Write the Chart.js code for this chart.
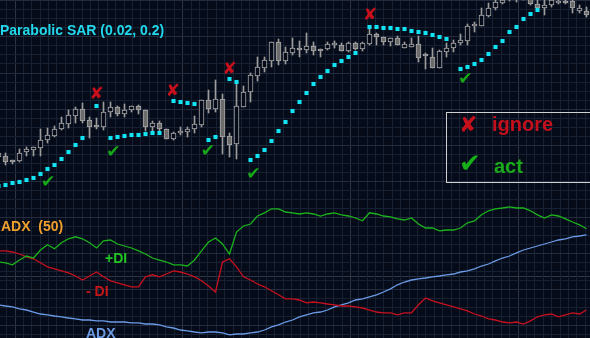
<!DOCTYPE html>
<html>
<head>
<meta charset="utf-8">
<script src="https://cdn.jsdelivr.net/npm/chart.js@4"></script>
<style>
  html, body { margin: 0; padding: 0; background: #050b19; }
  #wrap { position: relative; width: 590px; height: 338px; overflow: hidden; background: #050b19; }
  #chart { position: absolute; left: 0; top: 0; }
  .lbl { position: absolute; white-space: nowrap; font-family: "Liberation Sans", Arial, sans-serif; font-weight: bold; line-height: 1; }
  #legendBox { position: absolute; left: 446px; top: 112px; width: 160px; height: 69px; border: 1px solid #cfcfcf; }
</style>
</head>
<body>
<div id="wrap">
  <canvas id="chart" width="590" height="338"></canvas>
  <div class="lbl" style="left:0;top:23px;font-size:14px;color:#22d8ec;">Parabolic SAR (0.02, 0.2)</div>
  <div class="lbl" style="left:1px;top:219px;font-size:14px;color:#f0a02c;">ADX&nbsp;&nbsp;(50)</div>
  <div class="lbl" style="left:105px;top:251px;font-size:14px;color:#22c422;">+DI</div>
  <div class="lbl" style="left:86px;top:284px;font-size:14px;color:#c81616;">- DI</div>
  <div class="lbl" style="left:86px;top:326px;font-size:14px;color:#6d9be2;">ADX</div>
  <div id="legendBox"></div>
  <div class="lbl" style="left:459px;top:114px;font-size:22px;font-weight:normal;font-family:'DejaVu Sans';color:#c8101c;">✘</div>
  <div class="lbl" style="left:492px;top:114px;font-size:20px;color:#c4101c;">ignore</div>
  <div class="lbl" style="left:459px;top:150px;font-size:26px;font-weight:normal;font-family:'DejaVu Sans';color:#17b017;">✔</div>
  <div class="lbl" style="left:494px;top:156px;font-size:20px;color:#1aaa1a;">act</div>
</div>
<script>
// candles (price units), one per bar
const open = [68.6, 68.8, 68, 67.8, 69.6, 70, 70.4, 72, 72.8, 74.2,
  75.2, 76.8, 78.2, 76, 74.8, 74.6, 77.6, 78.6, 77.2, 78,
  78.8, 78, 74.6, 75.4, 74.2, 72.2, 73.4, 73.6, 74.2, 75,
  80, 78.2, 80.2, 72.8, 71.2, 78.6, 81.6, 84.8, 86.4, 87.8,
  91.6, 87.8, 89.4, 90.4, 90, 90.8, 90.2, 90.2, 91, 91,
  89.8, 91.4, 90.2, 91.2, 93.2, 92.6, 91.6, 92.4, 90.4, 90.6,
  91.2, 89, 88.6, 86.4, 89.6, 90.4, 91.4, 91.8, 94.8, 94.8,
  96.8, 98.4, 99.4, 100.2, 100.4, 100.6, 100.2, 99.2, 98.4, 99,
  99.4, 99.8, 99.8, 97.8, 97.8];
const close = [69.4, 67.6, 67.6, 69.4, 70.2, 70.6, 72, 73, 74.2, 75.4,
  77, 78.2, 75.8, 74.6, 74.6, 77.6, 78.6, 77.2, 78, 78.8,
  78, 74.6, 75.4, 74.2, 72.2, 73.4, 73.8, 74.2, 75.2, 80,
  78.2, 80.2, 72.6, 71, 78.8, 81.6, 85, 86.6, 88, 91.6,
  87.8, 89.6, 90.4, 90, 90.8, 89.8, 89.8, 91.2, 91.2, 89.8,
  91.4, 90.2, 91.4, 93.2, 92.6, 91.6, 92.4, 91, 91.2, 91.2,
  88.4, 88.8, 86.4, 89.8, 90.4, 91.4, 92, 94.8, 95, 97,
  98.4, 99.6, 100, 101.2, 101, 101.6, 99.2, 98.4, 99, 100,
  99.8, 99.4, 98.4, 98.4, 97];
const high = [70, 69.4, 68, 70.2, 70.6, 70.6, 74.2, 74.4, 74.8, 76.6,
  78, 78.6, 79.4, 76.6, 76.4, 79.6, 79.6, 78.8, 79.2, 78.8,
  79, 78, 75.8, 75.8, 74.2, 73.6, 74.6, 74.6, 76.8, 80,
  82, 84, 81.2, 73.4, 83.4, 82.8, 85.4, 88.6, 88.6, 91.6,
  92.2, 90.6, 92.4, 91.8, 93.4, 91.6, 90.2, 91.6, 91.8, 91.4,
  91.6, 91.6, 91.6, 94.2, 93.4, 92.6, 92.4, 92.8, 91.6, 92.4,
  92.8, 89.4, 90.4, 90, 91.4, 92, 93.2, 95.2, 95.6, 98.4,
  99.4, 100, 100.4, 101.8, 101.6, 102, 100.6, 100, 100, 100.4,
  100.4, 100.2, 100.4, 99, 98.6];
const low = [68, 67, 67.2, 67.6, 68.8, 68.8, 68.8, 71.4, 72.6, 74,
  74.4, 75.4, 75.4, 72.4, 74.2, 74, 76.6, 76.8, 76.6, 77.6,
  77.2, 73.8, 73.8, 73.8, 72.2, 72, 73, 72.6, 73.4, 74.6,
  77.4, 77.6, 69.2, 68.6, 68.2, 78.6, 79.6, 83.8, 85.6, 86.6,
  87, 87.2, 89, 88.6, 89.4, 89, 88.6, 90, 90.4, 89.8,
  89.6, 90, 89.8, 91, 91, 91, 90.8, 91, 90.4, 90.6,
  87.6, 86.2, 86.4, 86.4, 88.6, 89.6, 91, 91, 93.6, 94.8,
  96.6, 98, 99.2, 99.8, 99.6, 100, 99, 98.2, 97, 98.6,
  99.2, 99.2, 97.4, 97.4, 96.6];

// Parabolic SAR (null where the dot is not visible)
const sar = [62.8, 63, 63.4, 63.6, 64, 64.4, 65.2, 66.2, 67, 68.2,
  69.6, 71, 72.4, null, 78.8, null, 72.4, 72.6, 72.8, 73,
  73, 73.2, 73.4, 73.4, null, 79.8, 79.6, 79.4, 79.2, null,
  72, 72.6, null, 84.2, 83.6, null, 68, 68.8, 70, 71.8,
  73.8, 75.6, 77.8, 79.6, 81.4, 83.2, 84.6, 85.8, 87, 87.8,
  88.6, 89.4, null, 94.6, 94.6, 94.4, 94.4, 94.2, 94.2, 93.8,
  93.6, 93.4, 93, 92.6, 92.2, null, 86.2, 86.6, 87.2, 88,
  89.2, 90.6, 91.8, 93.6, 94.6, 96.2, 97.2, 98, null, null,
  null, null, null, null, null];

// ADX (50) panel
const plusDI = [28.5, 28.3, 27.8, 29, 30, 29.5, 31.5, 32.8, 31.8, 33.3,
  34.3, 34.8, 34.3, 33.3, 32, 33.8, 34, 33, 32.5, 32,
  31.3, 30.5, 29.5, 29, 28.5, 27.8, 27.8, 27.5, 29, 31.3,
  33.5, 34.5, 33, 30.5, 36, 37.5, 38, 40, 40.8, 41.8,
  41.8, 41, 40.8, 40.5, 40.8, 40.5, 40, 40.5, 40.8, 40.3,
  40, 39.5, 38.8, 40.8, 40.5, 40, 39.8, 39.3, 39, 39.5,
  38, 37, 37, 36.3, 36.5, 36.5, 37, 38.3, 38.8, 40.3,
  41.3, 41.8, 42, 42.3, 42, 42, 41.3, 40.3, 39.5, 40.3,
  40, 39.3, 38.5, 37.8, 36.8];
const minusDI = [31.3, 31.3, 31, 30.5, 29.8, 29.3, 28.3, 27.3, 26.8, 26.3,
  25.8, 25, 24, 25, 26, 24.8, 23.8, 23.3, 22.8, 22.3,
  22.3, 24.8, 25.3, 24.8, 25.5, 26.3, 26, 25.5, 24.8, 23.8,
  22.5, 21, 28.5, 29.3, 27.3, 24.8, 24, 23, 22.3, 21.3,
  20.3, 19.3, 19.3, 19, 18.3, 18.5, 18.3, 18, 17.8, 17.5,
  17.5, 17.3, 17, 16.5, 16, 15.8, 15.8, 15.3, 15.8, 15.8,
  17.8, 19.5, 18.8, 18.3, 17.8, 17.3, 16.8, 16.3, 15.5, 15,
  14.3, 14, 13.5, 13.3, 13.5, 13, 13.8, 14.8, 15.3, 15.5,
  14.8, 15.3, 15.8, 15.5, 16.5];
const adx = [17.8, 17.5, 17.3, 16.8, 16.5, 16, 15.5, 15.3, 15, 14.8,
  14.5, 14.3, 14, 14, 13.8, 13.8, 13.5, 13.5, 13.5, 13.3,
  13.3, 13, 13, 12.8, 12.3, 12, 11.5, 11.3, 11, 10.8,
  11, 11, 10.8, 10.3, 10.5, 10.5, 10.8, 11, 11.5, 12.3,
  12.8, 13.5, 14, 14.8, 15.3, 15.8, 16, 16.5, 17.3, 17.8,
  18.3, 19, 19.3, 19.8, 20.3, 21, 21.8, 22.8, 23.5, 24,
  24.3, 24.5, 24.8, 25, 25.3, 25.5, 26, 26.3, 26.8, 27.5,
  28, 28.8, 29.5, 30, 30.8, 31.5, 32, 32.5, 33, 33.5,
  34, 34.3, 34.8, 35, 35.3];

// signal marks: bar index and price
const ignoreBars = [14, 24.9, 33, 53.1];
const ignorePrices = [81, 81.6, 86, 96.8];
const actBars = [7.1, 16.4, 29.9, 36.4, 66.7];
const actPrices = [63.4, 69.4, 69.6, 65, 84];

const BG = '#050b19';
const bars = open.map((_, i) => i);

const markPlugin = {
  id: 'marks',
  afterDatasetsDraw(chart) {
    const { ctx, scales } = chart;
    ctx.save();
    ctx.textAlign = 'center';
    ctx.textBaseline = 'middle';
    ctx.font = '17px "DejaVu Sans"';
    ctx.fillStyle = '#c8101c';
    ignoreBars.forEach((b, i) => {
      ctx.fillText('✘', scales.x.getPixelForValue(b), scales.y.getPixelForValue(ignorePrices[i]));
    });
    ctx.font = '17px "DejaVu Sans"';
    ctx.fillStyle = '#16a816';
    actBars.forEach((b, i) => {
      ctx.fillText('✔', scales.x.getPixelForValue(b), scales.y.getPixelForValue(actPrices[i]));
    });
    ctx.restore();
  }
};

function gridColor(every, major, minor) {
  return (c) => (c.tick && Math.round(c.tick.value) % every === 0) ? major : minor;
}

new Chart(document.getElementById('chart'), {
  type: 'bar',
  data: {
    datasets: [
      {
        label: 'SAR',
        type: 'line',
        order: 0,
        data: bars.filter(i => sar[i] !== null).map(i => ({ x: i, y: sar[i] })),
        showLine: false,
        pointStyle: 'rect',
        pointRadius: 2.9,
        pointBorderWidth: 0,
        pointBackgroundColor: '#12e4f4',
        xAxisID: 'x',
        yAxisID: 'y'
      },
      {
        label: 'body',
        order: 1,
        data: bars.map(i => ({ x: i, y: [open[i], close[i]] })),
        backgroundColor: bars.map(i => open[i] > close[i] ? '#6c6c6c' : BG),
        borderColor: '#a8a8a8',
        borderWidth: 1,
        borderSkipped: false,
        barThickness: 5,
        minBarLength: 2,
        grouped: false,
        xAxisID: 'x',
        yAxisID: 'y'
      },
      {
        label: 'wick',
        order: 2,
        data: bars.map(i => ({ x: i, y: [low[i], high[i]] })),
        backgroundColor: '#9c9c9c',
        borderWidth: 0,
        barThickness: 1,
        grouped: false,
        xAxisID: 'x',
        yAxisID: 'y'
      },
      {
        label: '+DI',
        type: 'line',
        order: 0,
        data: bars.map(i => ({ x: i, y: plusDI[i] })),
        borderColor: '#1cb41c',
        borderWidth: 1.3,
        pointRadius: 0,
        tension: 0,
        xAxisID: 'x',
        yAxisID: 'yAdx'
      },
      {
        label: '-DI',
        type: 'line',
        order: 0,
        data: bars.map(i => ({ x: i, y: minusDI[i] })),
        borderColor: '#c8101e',
        borderWidth: 1.3,
        pointRadius: 0,
        tension: 0,
        xAxisID: 'x',
        yAxisID: 'yAdx'
      },
      {
        label: 'ADX',
        type: 'line',
        order: 0,
        data: bars.map(i => ({ x: i, y: adx[i] })),
        borderColor: '#6b9be6',
        borderWidth: 1.3,
        pointRadius: 0,
        tension: 0,
        xAxisID: 'x',
        yAxisID: 'yAdx'
      }
    ]
  },
  options: {
    responsive: false,
    animation: false,
    devicePixelRatio: 1,
    layout: { padding: 0, autoPadding: false },
    plugins: { legend: { display: false }, tooltip: { enabled: false } },
    scales: {
      x: { type: 'linear', offset: false, min: 0.2143, max: 84.5, display: false },
      y: { type: 'linear', min: 32.4, max: 100, display: false },
      yAdx: {
        type: 'linear', position: 'right', min: 9.5, max: 94,
        ticks: { display: false },
        afterBuildTicks: (scale) => { scale.ticks = [{ value: 25 }]; },
        grid: { color: '#2e3748', drawTicks: false },
        border: { display: false }
      },
      xg: {
        type: 'linear', axis: 'x', position: 'bottom', offset: false, min: -1.789, max: 68.575,
        ticks: { display: false, stepSize: 1, includeBounds: false },
        grid: { color: gridColor(20, '#2c3546', '#172134'), drawTicks: false, offset: false },
        border: { display: false }
      },
      yg: {
        type: 'linear', axis: 'y', position: 'left', reverse: true, min: -0.111, max: 37.444,
        ticks: { display: false, stepSize: 1, includeBounds: false },
        grid: { color: gridColor(4, '#222c3e', '#172134'), drawTicks: false },
        border: { display: false }
      }
    }
  },
  plugins: [markPlugin]
});
</script>
</body>
</html>
